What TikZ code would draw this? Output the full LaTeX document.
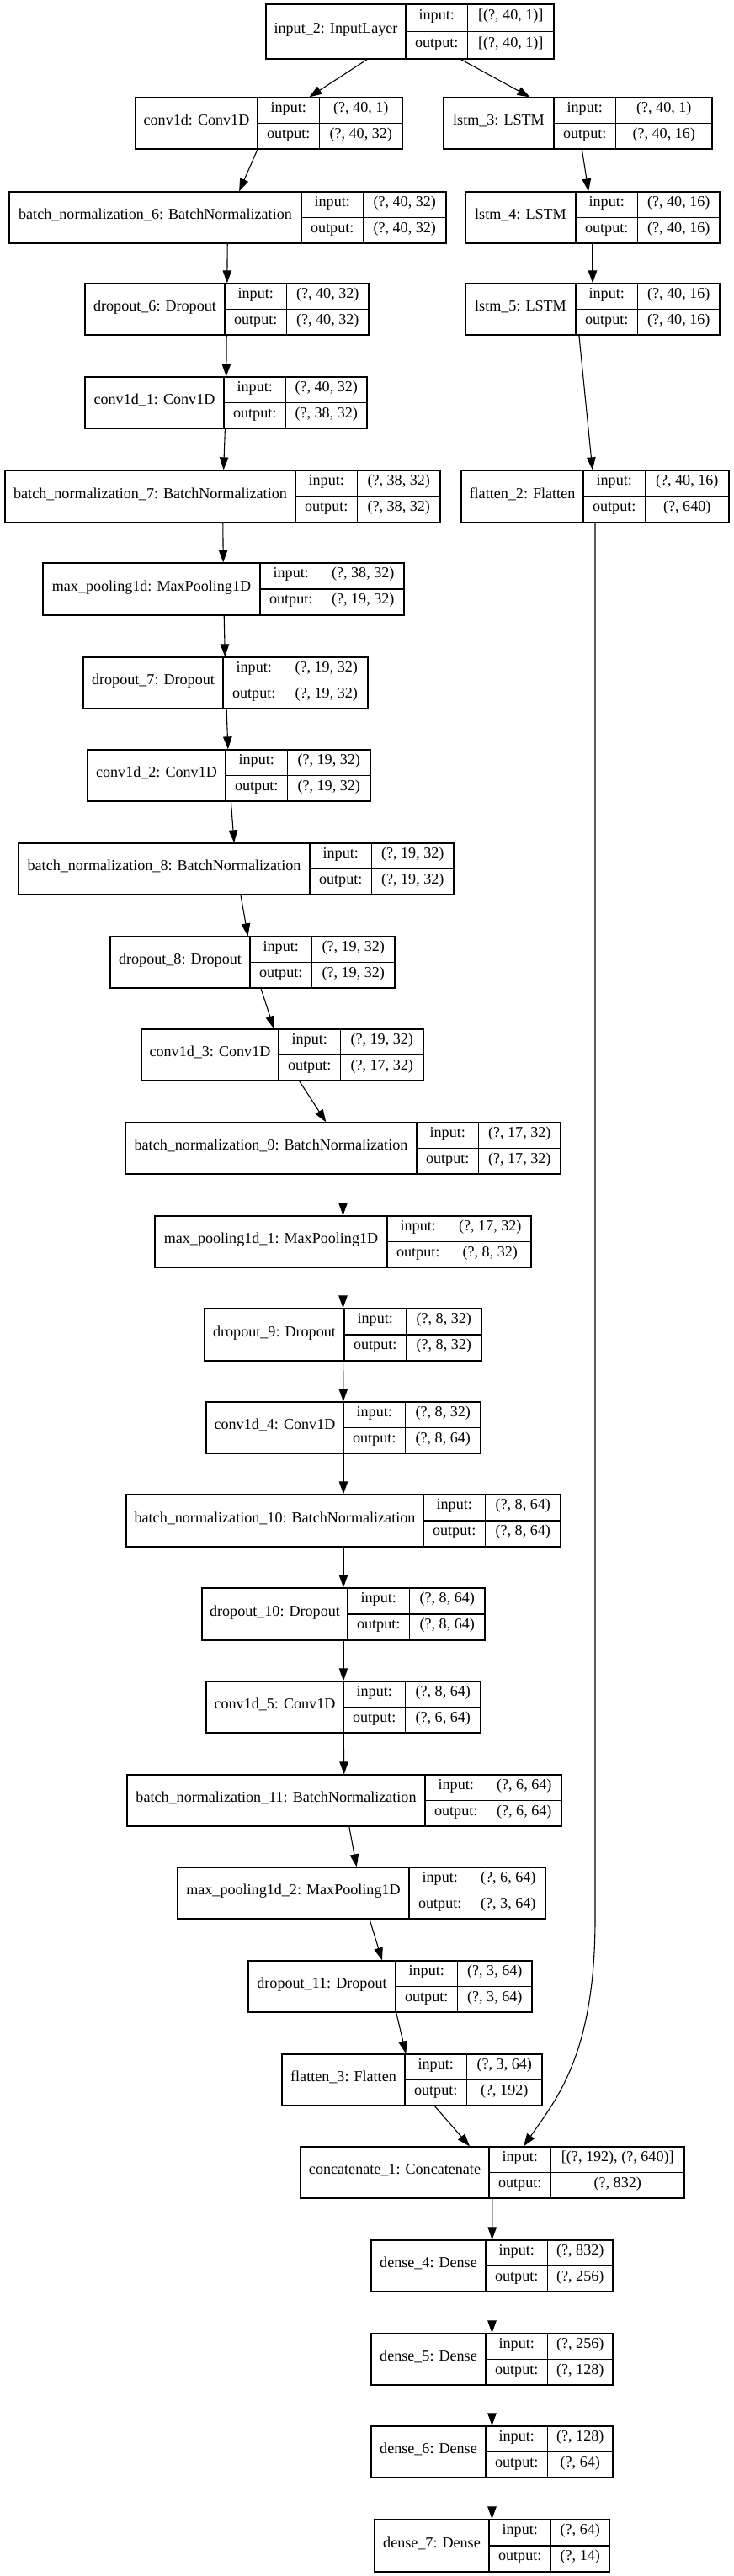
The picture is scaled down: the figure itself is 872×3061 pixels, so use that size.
\documentclass[tikz,border=0pt]{standalone}
\usepackage{fontspec}
\setmainfont{Liberation Serif}
\usetikzlibrary{arrows.meta,calc}
\tikzset{
  lbox/.style={draw=black, line width=1.3pt, rectangle, inner sep=0pt, fill=white},
  cell/.style={draw=black, line width=1.3pt},
  txt/.style={inner sep=0pt, anchor=center, text height=0.68em, text depth=0.2em, font=\fontsize{18.1}{21}\selectfont},
  edge/.style={draw=black, line width=1.1pt, -{Triangle[length=15pt,width=10.5pt]}}
}
\newcommand\mylayer[9]{%
  \pgfmathsetmacro\lw{#4-#2}\pgfmathsetmacro\lh{#5-#3}%
  \pgfmathsetmacro\cx{(#2+#4)/2}\pgfmathsetmacro\cy{(#3+#5)/2}%
  \pgfmathsetmacro\dd{#6+73.5}%
  \pgfmathsetmacro\ax{(#2+#6)/2}\pgfmathsetmacro\bx{(#6+\dd)/2}\pgfmathsetmacro\vx{(\dd+#4)/2}%
  \pgfmathsetmacro\ty{(#3+\cy)/2}\pgfmathsetmacro\by{(\cy+#5)/2}%
  \node[lbox, minimum width=\lw pt, minimum height=\lh pt] (#1) at (\cx,\cy) {};
  \draw[cell] (#6,#3) -- (#6,#5) (\dd,#3) -- (\dd,#5) (#6,\cy) -- (#4,\cy);
  \node[txt] (#1-name) at (\ax,\cy) {#7};
  \node[txt] (#1-ilab) at (\bx,\ty) {input:};
  \node[txt] (#1-olab) at (\bx,\by) {output:};
  \node[txt] (#1-ival) at (\vx,\ty) {#8};
  \node[txt] (#1-oval) at (\vx,\by) {#9};
}
\begin{document}
\begin{tikzpicture}[x=1pt,y=-1pt]
\fill[white] (0,0) rectangle (872,3061);
\useasboundingbox (0,0) rectangle (872,3061);
\mylayer{in2}{316}{5}{658}{70}{482}{input\_2: InputLayer}{[(?, 40, 1)]}{[(?, 40, 1)]}
\mylayer{c0}{161}{116}{478}{177}{306}{conv1d: Conv1D}{(?, 40, 1)}{(?, 40, 32)}
\mylayer{l3}{527}{116}{846}{177}{658}{lstm\_3: LSTM}{(?, 40, 1)}{(?, 40, 16)}
\mylayer{bn6}{11}{228}{530}{289}{358}{batch\_normalization\_6: BatchNormalization}{(?, 40, 32)}{(?, 40, 32)}
\mylayer{l4}{553}{228}{855}{289}{684}{lstm\_4: LSTM}{(?, 40, 16)}{(?, 40, 16)}
\mylayer{do6}{101}{337}{438}{398}{267}{dropout\_6: Dropout}{(?, 40, 32)}{(?, 40, 32)}
\mylayer{l5}{553}{337}{855}{398}{684}{lstm\_5: LSTM}{(?, 40, 16)}{(?, 40, 16)}
\mylayer{c1}{101}{448}{436}{509}{266}{conv1d\_1: Conv1D}{(?, 40, 32)}{(?, 38, 32)}
\mylayer{bn7}{6}{559}{523}{621}{351}{batch\_normalization\_7: BatchNormalization}{(?, 38, 32)}{(?, 38, 32)}
\mylayer{f2}{548}{559}{866}{621}{693}{flatten\_2: Flatten}{(?, 40, 16)}{(?, 640)}
\mylayer{mp0}{51}{669}{480}{731}{309}{max\_pooling1d: MaxPooling1D}{(?, 38, 32)}{(?, 19, 32)}
\mylayer{do7}{99}{781}{437}{842}{265}{dropout\_7: Dropout}{(?, 19, 32)}{(?, 19, 32)}
\mylayer{c2}{104}{891}{440}{952}{268}{conv1d\_2: Conv1D}{(?, 19, 32)}{(?, 19, 32)}
\mylayer{bn8}{22}{1002}{539}{1063}{368}{batch\_normalization\_8: BatchNormalization}{(?, 19, 32)}{(?, 19, 32)}
\mylayer{do8}{131}{1113}{469}{1174}{297}{dropout\_8: Dropout}{(?, 19, 32)}{(?, 19, 32)}
\mylayer{c3}{168}{1223}{503}{1284}{331}{conv1d\_3: Conv1D}{(?, 19, 32)}{(?, 17, 32)}
\mylayer{bn9}{149}{1334}{666}{1395}{495}{batch\_normalization\_9: BatchNormalization}{(?, 17, 32)}{(?, 17, 32)}
\mylayer{mp1}{184}{1445}{631}{1506}{460}{max\_pooling1d\_1: MaxPooling1D}{(?, 17, 32)}{(?, 8, 32)}
\mylayer{do9}{243}{1555}{572}{1617}{409}{dropout\_9: Dropout}{(?, 8, 32)}{(?, 8, 32)}
\mylayer{c4}{245}{1666}{571}{1727}{408}{conv1d\_4: Conv1D}{(?, 8, 32)}{(?, 8, 64)}
\mylayer{bn10}{150}{1776}{666}{1838}{503}{batch\_normalization\_10: BatchNormalization}{(?, 8, 64)}{(?, 8, 64)}
\mylayer{do10}{240}{1887}{576}{1949}{413}{dropout\_10: Dropout}{(?, 8, 64)}{(?, 8, 64)}
\mylayer{c5}{245}{1998}{571}{2059}{408}{conv1d\_5: Conv1D}{(?, 8, 64)}{(?, 6, 64)}
\mylayer{bn11}{151}{2109}{667}{2170}{505}{batch\_normalization\_11: BatchNormalization}{(?, 6, 64)}{(?, 6, 64)}
\mylayer{mp2}{211}{2219}{648}{2280}{486}{max\_pooling1d\_2: MaxPooling1D}{(?, 6, 64)}{(?, 3, 64)}
\mylayer{do11}{295}{2330}{632}{2391}{470}{dropout\_11: Dropout}{(?, 3, 64)}{(?, 3, 64)}
\mylayer{f3}{335}{2441}{644}{2502}{481}{flatten\_3: Flatten}{(?, 3, 64)}{(?, 192)}
\mylayer{cat}{357}{2551}{813}{2612}{581}{concatenate\_1: Concatenate}{[(?, 192), (?, 640)]}{(?, 832)}
\mylayer{d4}{441}{2662}{728}{2723}{577}{dense\_4: Dense}{(?, 832)}{(?, 256)}
\mylayer{d5}{441}{2773}{728}{2834}{577}{dense\_5: Dense}{(?, 256)}{(?, 128)}
\mylayer{d6}{441}{2883}{728}{2944}{577}{dense\_6: Dense}{(?, 128)}{(?, 64)}
\mylayer{d7}{445}{2994}{724}{3056}{581}{dense\_7: Dense}{(?, 64)}{(?, 14)}
% connectors
\draw[edge] (in2) -- (c0);
\draw[edge] (in2) -- (l3);
\draw[edge] (c0) -- (bn6);
\draw[edge] (l3) -- (l4);
\draw[edge] (bn6) -- (do6);
\draw[edge] (l4) -- (l5);
\draw[edge] (do6) -- (c1);
\coordinate (l5out) at ($(l5.south west)!0.447!(l5.south east)$);
\draw[edge] (l5out) -- (f2);
\draw[edge] (c1) -- (bn7);
\draw[edge] (bn7) -- (mp0);
\draw[edge] (mp0) -- (do7);
\draw[edge] (do7) -- (c2);
\draw[edge] (c2) -- (bn8);
\draw[edge] (bn8) -- (do8);
\draw[edge] (do8) -- (c3);
\draw[edge] (c3) -- (bn9);
\draw[edge] (bn9) -- (mp1);
\draw[edge] (mp1) -- (do9);
\draw[edge] (do9) -- (c4);
\draw[edge] (c4) -- (bn10);
\draw[edge] (bn10) -- (do10);
\draw[edge] (do10) -- (c5);
\draw[edge] (c5) -- (bn11);
\draw[edge] (bn11) -- (mp2);
\draw[edge] (mp2) -- (do11);
\draw[edge] (do11) -- (f3);
\draw[edge] (f3) -- (cat);
\coordinate (f2bend) at (707,2280);
\coordinate (catin) at ($(cat.north west)!0.581!(cat.north east)$);
\draw[edge] (f2.south) -- (f2bend) .. controls (707,2440) and (662,2493) .. (catin);
\draw[edge] (cat) -- (d4);
\draw[edge] (d4) -- (d5);
\draw[edge] (d5) -- (d6);
\draw[edge] (d6) -- (d7);
\end{tikzpicture}
\end{document}
